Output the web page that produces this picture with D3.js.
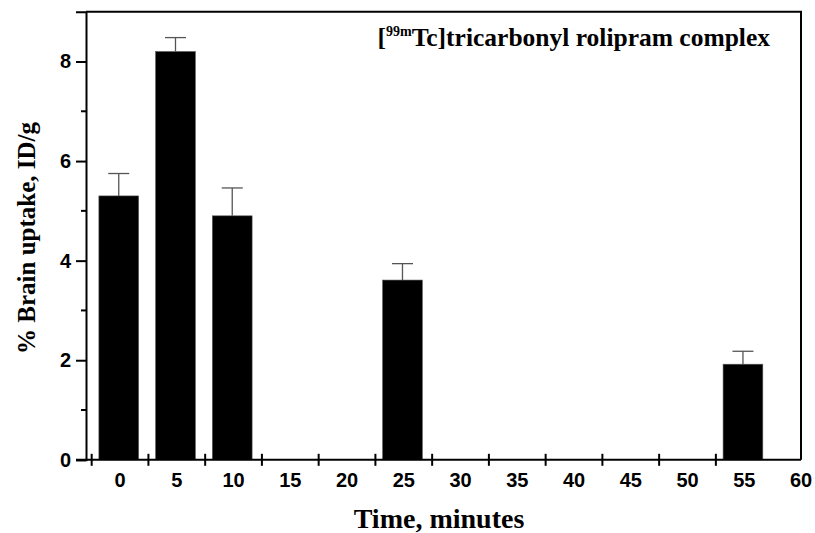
<!DOCTYPE html>
<html>
<head>
<meta charset="utf-8">
<script src="https://cdn.jsdelivr.net/npm/d3@7"></script>
<style>
  body { margin: 0; background: #fff; }
  svg { display: block; }
</style>
</head>
<body>
<svg width="815" height="533"></svg>
<script>
// data
var times = [0, 5, 10, 25, 55];
var uptake = [5.30, 8.20, 4.90, 3.61, 1.92];
var errorUp = [0.45, 0.28, 0.56, 0.33, 0.26];
var xLabels = [0, 5, 10, 15, 20, 25, 30, 35, 40, 45, 50, 55, 60];
var yTicks = [0, 2, 4, 6, 8];
var yMinor = [1, 3, 5, 7];

var svg = d3.select('svg');
var plotLeft = 86, plotRight = 801, plotTop = 11.7, plotBottom = 459.8;

var x = d3.scaleLinear().domain([-3, 60]).range([plotLeft, plotRight]);
var y = d3.scaleLinear().domain([0, 9]).range([plotBottom, plotTop]);
var barW = x(3.5) - x(0);

// bars
svg.append('g').selectAll('rect')
  .data(times)
  .enter().append('rect')
  .attr('x', function (d) { return x(d) - barW / 2 - 1.3; })
  .attr('y', function (d, i) { return y(uptake[i]); })
  .attr('width', barW)
  .attr('height', function (d, i) { return plotBottom - y(uptake[i]); })
  .attr('fill', '#000')
  .attr('stroke', '#555')
  .attr('stroke-width', 0.6);

// error bars (upper only)
var err = svg.append('g').attr('stroke', '#555').attr('stroke-width', 1.3);
times.forEach(function (t, i) {
  var cx = x(t) - 1.3;
  err.append('line')
    .attr('x1', cx).attr('x2', cx)
    .attr('y1', y(uptake[i])).attr('y2', y(uptake[i] + errorUp[i]));
  err.append('line')
    .attr('x1', cx - 10.5).attr('x2', cx + 10.5)
    .attr('y1', y(uptake[i] + errorUp[i])).attr('y2', y(uptake[i] + errorUp[i]));
});

// frame
svg.append('path')
  .attr('d', 'M' + plotLeft + ',' + plotTop + 'H' + plotRight + 'V' + plotBottom)
  .attr('fill', 'none')
  .attr('stroke', '#000')
  .attr('stroke-width', 2);

// x axis: tick marks between labels
var xAxis = svg.append('g').attr('transform', 'translate(0,' + plotBottom + ')');
xAxis.append('line')
  .attr('x1', plotLeft - 10).attr('x2', plotRight)
  .attr('stroke', '#000').attr('stroke-width', 2);
xAxis.selectAll('line.tk')
  .data(xLabels.slice(0, 12))
  .enter().append('line')
  .attr('class', 'tk')
  .attr('x1', function (d) { return x(d - 2.5); })
  .attr('x2', function (d) { return x(d - 2.5); })
  .attr('y1', -6).attr('y2', 6)
  .attr('stroke', '#000').attr('stroke-width', 2);
xAxis.selectAll('text')
  .data(xLabels)
  .enter().append('text')
  .attr('x', function (d) { return x(d); })
  .attr('y', 27)
  .attr('text-anchor', 'middle')
  .attr('font-family', 'Liberation Sans, Arial, sans-serif')
  .attr('font-weight', 'bold')
  .attr('font-size', 20)
  .text(function (d) { return d; });

// y axis
var yAxis = svg.append('g')
  .attr('transform', 'translate(' + plotLeft + ',0)')
  .call(d3.axisLeft(y).tickValues(yTicks).tickSize(10).tickPadding(5));
yAxis.select('.domain').attr('stroke-width', 2);
yAxis.selectAll('.tick line').attr('stroke-width', 2);
yAxis.selectAll('.tick text')
  .attr('font-family', 'Liberation Sans, Arial, sans-serif')
  .attr('font-weight', 'bold')
  .attr('font-size', 20)
  .attr('fill', '#000');
yAxis.selectAll('line.minor')
  .data(yMinor)
  .enter().append('line')
  .attr('class', 'minor')
  .attr('x1', -5).attr('x2', 0)
  .attr('y1', function (d) { return y(d); })
  .attr('y2', function (d) { return y(d); })
  .attr('stroke', '#000').attr('stroke-width', 2);

// titles
svg.append('text')
  .attr('transform', 'translate(35,238) rotate(-90)')
  .attr('text-anchor', 'middle')
  .attr('font-family', 'Liberation Serif, Times New Roman, serif')
  .attr('font-weight', 'bold')
  .attr('font-size', 25)
  .text('% Brain uptake, ID/g');

svg.append('text')
  .attr('x', 439).attr('y', 528)
  .attr('text-anchor', 'middle')
  .attr('font-family', 'Liberation Serif, Times New Roman, serif')
  .attr('font-weight', 'bold')
  .attr('font-size', 28)
  .text('Time, minutes');

var note = svg.append('text')
  .attr('x', 770).attr('y', 46)
  .attr('text-anchor', 'end')
  .attr('font-family', 'Liberation Serif, Times New Roman, serif')
  .attr('font-weight', 'bold')
  .attr('font-size', 25.5);
note.append('tspan').text('[');
note.append('tspan').attr('font-size', 14).attr('dy', -10).text('99m');
note.append('tspan').attr('dy', 10).text('Tc]tricarbonyl rolipram complex');
</script>
</body>
</html>
